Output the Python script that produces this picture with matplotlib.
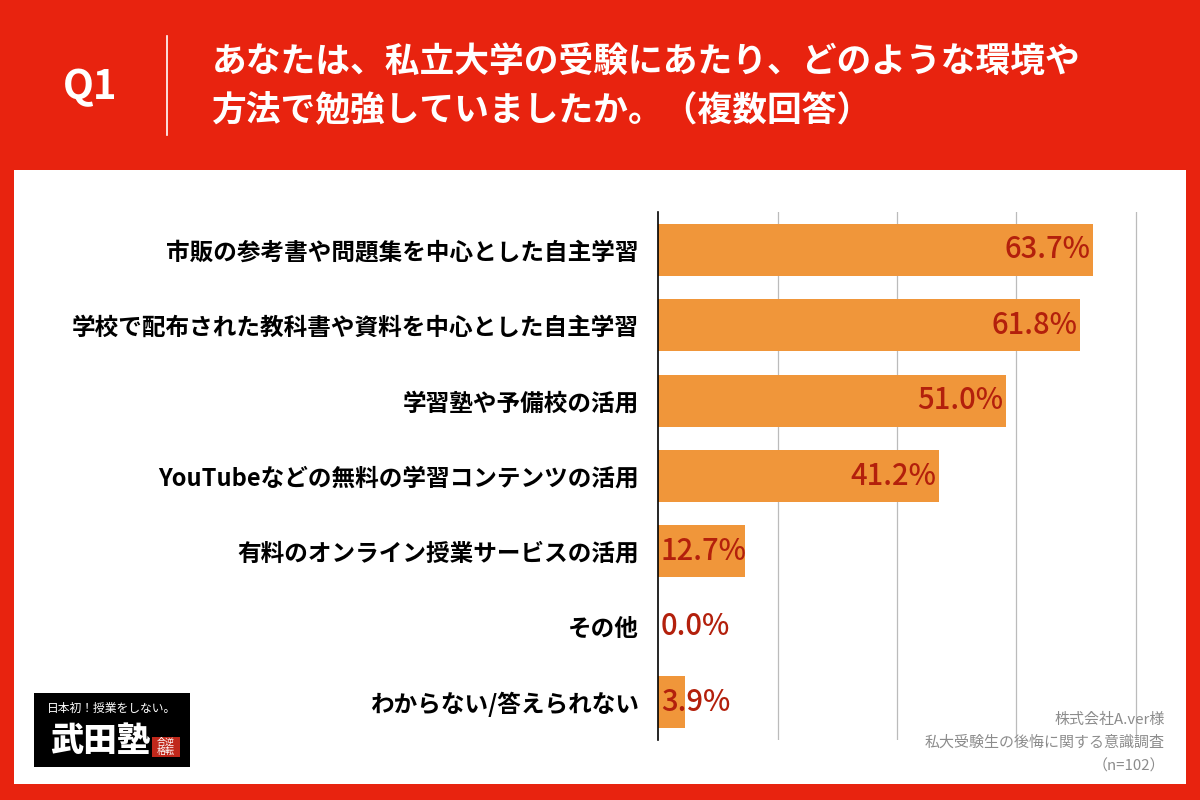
import matplotlib
matplotlib.use('Agg')
import matplotlib.pyplot as plt
from matplotlib.patches import Rectangle

plt.rcParams['font.family'] = ['Noto Sans CJK JP', 'DejaVu Sans']

# データ
categories = ['市販の参考書や問題集を中心とした自主学習',
              '学校で配布された教科書や資料を中心とした自主学習',
              '学習塾や予備校の活用',
              'YouTubeなどの無料の学習コンテンツの活用',
              '有料のオンライン授業サービスの活用',
              'その他',
              'わからない/答えられない']
values = [63.7, 61.8, 51.0, 41.2, 12.7, 0.0, 3.9]
title_lines = ['あなたは、私立大学の受験にあたり、どのような環境や',
               '方法で勉強していましたか。（複数回答）']
notes = ['株式会社A.ver様', '私大受験生の後悔に関する意識調査', '（n=102）']

RED = '#E8230F'
BAR = '#F0963A'
VAL = '#B3200C'

fig = plt.figure(figsize=(12, 8), dpi=100)
fig.patch.set_facecolor(RED)

W, H = 1200, 800
def fx(px): return px / W
def fy(py): return 1 - py / H

# white panel
fig.patches.append(Rectangle((fx(14), fy(784)), fx(1186) - fx(14), fy(170) - fy(784),
                             transform=fig.transFigure, facecolor='white',
                             edgecolor='none', zorder=-10))

# header
fig.text(fx(90), fy(88), 'Q1', color='white', fontsize=29, fontweight='bold',
         ha='center', va='center')
fig.add_artist(plt.Line2D([fx(167), fx(167)], [fy(36), fy(135)], color='white',
                          lw=1.2, transform=fig.transFigure))
fig.text(fx(212), fy(62), title_lines[0], color='white', fontsize=25,
         fontweight='bold', ha='left', va='center')
fig.text(fx(212), fy(110), title_lines[1], color='white', fontsize=25,
         fontweight='bold', ha='left', va='center')

# chart
xmax = 70.5
ax = fig.add_axes([fx(658), fy(740), (fx(1136) - fx(658)) * xmax / 70, fy(212) - fy(740)])
ax.set_facecolor('none')
y = list(range(len(categories)))
ax.barh(y, values, height=0.69, color=BAR, zorder=2)
ax.set_xlim(0, xmax)
ax.set_ylim(len(categories) - 0.5, -0.5)
ax.set_xticks([17.5, 35, 52.5, 70])
ax.grid(axis='x', color='#BBBBBB', lw=0.9, zorder=1)
ax.tick_params(length=0, labelbottom=False)
ax.set_yticks(y)
ax.set_yticklabels(categories, fontsize=17, fontweight='bold')
ax.tick_params(axis='y', pad=14)
for s in ['top', 'right', 'bottom']:
    ax.spines[s].set_visible(False)
ax.spines['left'].set_color('black')
ax.spines['left'].set_linewidth(1.2)
ax.spines['left'].set_zorder(3)

for yi, v in zip(y, values):
    txt = f'{v:.1f}%'
    if v > 20:
        ax.text(v - 0.4, yi, txt, color=VAL, fontsize=21, fontweight='medium',
                ha='right', va='center', zorder=4)
    else:
        ax.text(0.4, yi, txt, color=VAL, fontsize=21, fontweight='medium',
                ha='left', va='center', zorder=4)

# notes
for i, n in enumerate(notes):
    fig.text(fx(1165), fy(720 + 23 * i), n, color='#8C8C8C', fontsize=10.8,
             ha='right', va='center')

# logo
fig.patches.append(Rectangle((fx(34), fy(767)), fx(190) - fx(34), fy(693) - fy(767),
                             transform=fig.transFigure, facecolor='black',
                             edgecolor='none', zorder=1))
fig.text(fx(112), fy(708), '日本初！授業をしない。', color='white', fontsize=8.5,
         ha='center', va='center', zorder=2)
fig.text(fx(100), fy(740), '武田塾', color='white', fontsize=24, fontweight='black',
         ha='center', va='center', zorder=2)
fig.patches.append(Rectangle((fx(152), fy(757)), fx(180) - fx(152), fy(737) - fy(757),
                             transform=fig.transFigure, facecolor='#C0281B',
                             edgecolor='none', zorder=2))
fig.text(fx(166), fy(747), '合逆\n格転', color='white', fontsize=6.5, linespacing=1.0,
         ha='center', va='center', zorder=3)

fig.savefig('out.png', dpi=100, facecolor=fig.get_facecolor())
